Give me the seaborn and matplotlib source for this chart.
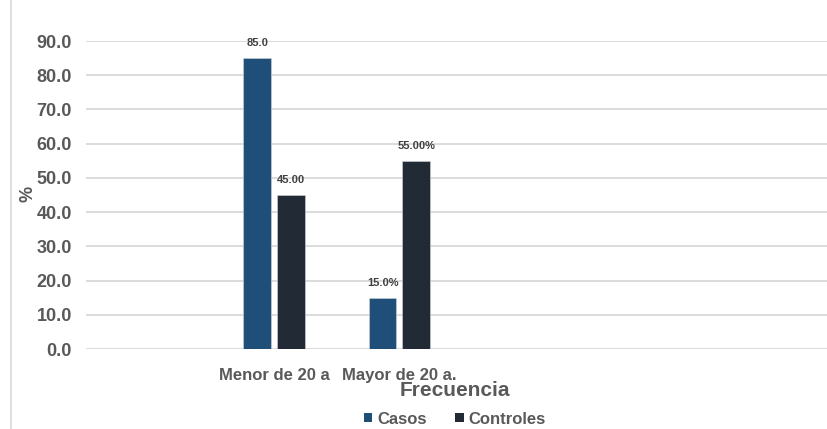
import matplotlib
matplotlib.use("Agg")
import matplotlib.pyplot as plt
from matplotlib.lines import Line2D
from matplotlib.patches import Patch
import seaborn as sns
import pandas as pd

# Data
grupos = ["Menor de 20 a", "Mayor de 20 a."]
series = ["Casos", "Controles"]
casos = [85.0, 15.0]
controles = [45.0, 55.0]
# label format for each series, per group
formatos_casos = ["{:.1f}", "{:.1f}%"]
formatos_controles = ["{:.2f}", "{:.2f}%"]
yticks = [0, 10, 20, 30, 40, 50, 60, 70, 80, 90]

colores = ["#1F4E79", "#222A35"]
gris = "#595959"

df = pd.DataFrame({
    "grupo": grupos * 2,
    "serie": [series[0]] * len(grupos) + [series[1]] * len(grupos),
    "valor": casos + controles,
})

sns.set_theme(style="white")
plt.rcParams["font.family"] = ["Liberation Sans", "DejaVu Sans"]

fig = plt.figure(figsize=(8.27, 4.29), dpi=100)
ax = fig.add_axes([86 / 827, 1 - 349 / 429, 1 - 86 / 827, (349 - 41) / 429])

sns.barplot(data=df, x="grupo", y="valor", hue="serie", palette=colores,
            width=0.54, gap=0.18, ax=ax, legend=False, saturation=1,
            edgecolor="#D0D5DC", linewidth=0.4)

ax.set_xlim(-1.5, 4.41)
ax.set_ylim(0, 90)
ax.set_yticks(yticks)
ax.set_yticklabels([f"{v:.1f}" for v in yticks])
ax.yaxis.grid(True, color="#D9D9D9", linewidth=1.3)
ax.set_axisbelow(True)
for s in ax.spines.values():
    s.set_visible(False)
ax.tick_params(axis="y", length=0, pad=10, labelsize=13, labelcolor=gris)
ax.tick_params(axis="x", length=0, pad=14, labelsize=12, labelcolor=gris)
for t in ax.get_yticklabels() + ax.get_xticklabels():
    t.set_fontweight("bold")
ax.set_xlabel("")
ax.set_ylabel("")

# value labels
for cont, vals, fmts in zip(ax.containers, [casos, controles],
                            [formatos_casos, formatos_controles]):
    ax.bar_label(cont, labels=[f.format(v) for f, v in zip(fmts, vals)],
                 padding=7, fontsize=8, fontweight="bold", color="#404040")

fig.text(28 / 827, 1 - 194 / 429, "%", rotation=90, ha="center", va="center",
         fontsize=13, fontweight="bold", color=gris)
fig.text(455 / 827, 1 - 391 / 429, "Frecuencia", ha="center", va="center",
         fontsize=15, fontweight="bold", color=gris)

handles = [Patch(facecolor=c, edgecolor="none") for c in colores]
fig.legend(handles, series, loc="center", bbox_to_anchor=(455 / 827, 1 - 419 / 429),
           ncol=2, frameon=False, handlelength=0.5, handleheight=0.5,
           handletextpad=0.3, columnspacing=1.7,
           prop={"size": 12, "weight": "bold"}, labelcolor=gris)

fig.add_artist(Line2D([11 / 827, 11 / 827], [0, 1], color="#D9D9D9", linewidth=1.2))

fig.savefig("out.png", dpi=100, facecolor="white")
